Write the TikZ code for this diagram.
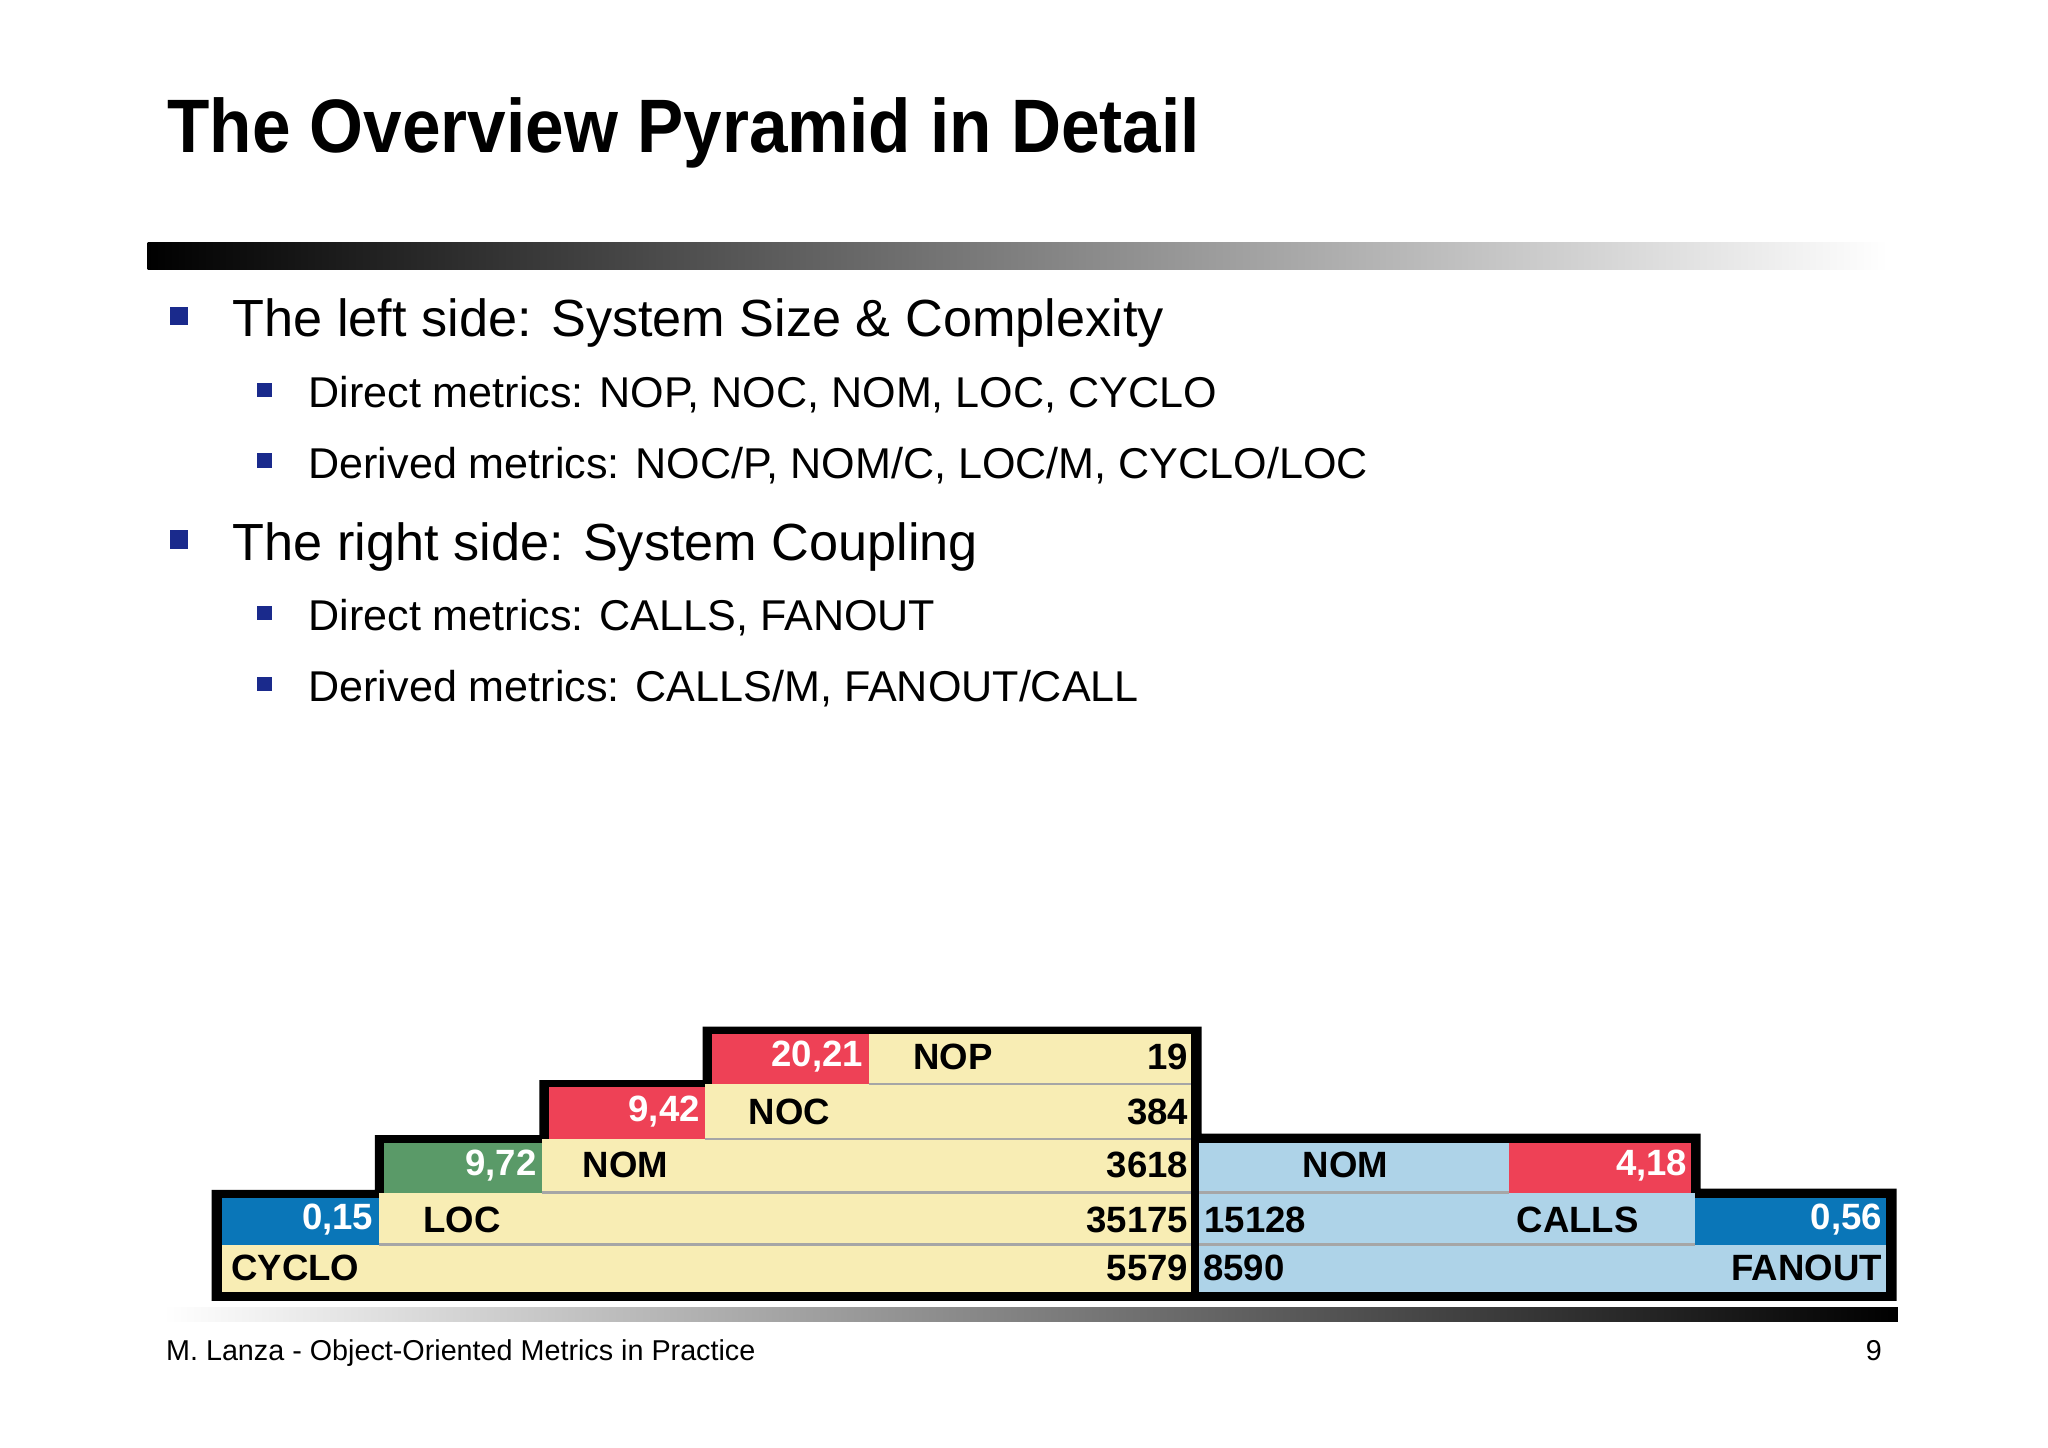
\documentclass[tikz,border=0pt]{standalone}
\usepackage{fontspec}
\setmainfont{Liberation Sans}
\definecolor{cred}{HTML}{EE4156}
\definecolor{cyel}{HTML}{F8EDB4}
\definecolor{cgreen}{HTML}{5A9A68}
\definecolor{cdblue}{HTML}{0A76B8}
\definecolor{clblue}{HTML}{AED3E8}
\definecolor{cbul}{HTML}{1A2A8C}
\begin{document}
\begin{tikzpicture}[x=1pt,y=-1pt,
  bul/.style={fill=cbul},
  big/.style={anchor=base west,inner sep=0,font=\fontsize{40}{44}\selectfont},
  small/.style={anchor=base west,inner sep=0,font=\fontsize{33}{36}\selectfont},
  lab/.style={inner sep=0,font=\bfseries\fontsize{28}{30}\selectfont},
  wlab/.style={lab,text=white},
  sep/.style={draw=gray!70,line width=2pt}]
\useasboundingbox[fill=white] (0,0) rectangle (1568,1108);
\node[anchor=base west,inner sep=0] (title) at (128,117) {\scalebox{0.915}[1]{\bfseries\fontsize{58}{60}\selectfont The Overview Pyramid in Detail}};
\shade[left color=black,right color=white] (113,186) rectangle (1445,206);
% bullets
\fill[bul] (130,235) rectangle (144,249);
\node[big] (b1) at (178,258) {The left side: System Size \& Complexity};
\fill[bul] (197,293) rectangle (208,304);
\node[small] (b2) at (236,312) {Direct metrics: NOP, NOC, NOM, LOC, CYCLO};
\fill[bul] (197,347) rectangle (208,358);
\node[small] (b3) at (236,366) {Derived metrics: NOC/P, NOM/C, LOC/M, CYCLO/LOC};
\fill[bul] (130,406) rectangle (144,420);
\node[big] (b4) at (178,429) {The right side: System Coupling};
\fill[bul] (197,464) rectangle (208,475);
\node[small] (b5) at (236,483) {Direct metrics: CALLS, FANOUT};
\fill[bul] (197,518) rectangle (208,529);
\node[small] (b6) at (236,537) {Derived metrics: CALLS/M, FANOUT/CALL};
% pyramid border
\fill[black] (538,786) -- (920,786) -- (920,868) -- (1302,868) -- (1302,910) -- (1452,910) -- (1452,996) -- (162,996) -- (162,911) -- (287,911) -- (287,869) -- (413,869) -- (413,827) -- (538,827) -- cycle;
% row1
\fill[cred] (545,792) rectangle (665,830);
\fill[cyel] (665,792) rectangle (912,830);
% row2
\fill[cred] (420,832) rectangle (540,872);
\fill[cyel] (540,830) rectangle (912,872);
% row3
\fill[cgreen] (294,875) rectangle (415,913);
\fill[cyel] (415,872) rectangle (912,913);
\fill[clblue] (918,875) rectangle (1155,913);
\fill[cred] (1155,875) rectangle (1295,913);
% row4
\fill[cdblue] (170,917) rectangle (290,953);
\fill[cyel] (290,913) rectangle (912,953);
\fill[clblue] (918,913) rectangle (1298,953);
\fill[cdblue] (1298,917) rectangle (1444,953);
% row5
\fill[cyel] (170,953) rectangle (912,989);
\fill[clblue] (918,953) rectangle (1444,989);
% separators
\draw[sep] (665,830) -- (912,830);
\draw[sep] (540,872) -- (912,872);
\draw[sep] (415,913) -- (912,913);
\draw[sep] (918,913) -- (1155,913);
\draw[sep] (290,953) -- (912,953);
\draw[sep] (918,953) -- (1298,953);
% labels
\node[wlab,anchor=east] (v1) at (661,809) {20,21};
\node[lab,anchor=west] (n1) at (699,809) {NOP};
\node[lab,anchor=east] (c1) at (910,809) {19};
\node[wlab,anchor=east] (v2) at (536,851) {9,42};
\node[lab,anchor=west] (n2) at (573,851) {NOC};
\node[lab,anchor=east] (c2) at (910,851) {384};
\node[wlab,anchor=east] (v3) at (411,892) {9,72};
\node[lab,anchor=west] (n3) at (446,892) {NOM};
\node[lab,anchor=east] (c3) at (910,892) {3618};
\node[lab] (r3) at (1030,892) {NOM};
\node[wlab,anchor=east] (v3r) at (1292,892) {4,18};
\node[wlab,anchor=east] (v4) at (286,934) {0,15};
\node[lab,anchor=west] (n4) at (324,934) {LOC};
\node[lab,anchor=east] (c4) at (910,934) {35175};
\node[lab,anchor=west] (d4) at (922,934) {15128};
\node[lab,anchor=west] (r4) at (1161,934) {CALLS};
\node[wlab,anchor=east] (v4r) at (1441,934) {0,56};
\node[lab,anchor=west] (n5) at (177,971) {CYCLO};
\node[lab,anchor=east] (c5) at (910,971) {5579};
\node[lab,anchor=west] (d5) at (921,971) {8590};
\node[lab,anchor=east] (r5) at (1441,971) {FANOUT};
\shade[left color=white,right color=black] (125,1001) rectangle (1453,1012);
\node[anchor=base west,inner sep=0,font=\fontsize{22}{24}\selectfont] (foot) at (127,1042) {M. Lanza - Object-Oriented Metrics in Practice};
\node[anchor=base east,inner sep=0,font=\fontsize{22}{24}\selectfont] (pg) at (1441,1042) {9};
\end{tikzpicture}
\end{document}
